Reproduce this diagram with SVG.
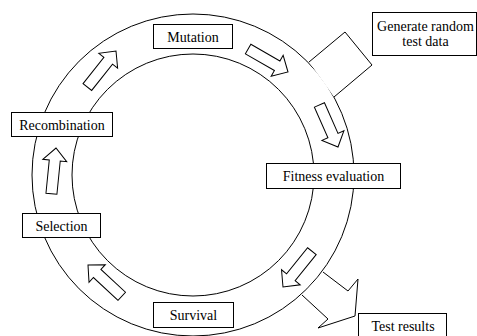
<svg xmlns="http://www.w3.org/2000/svg" width="477" height="336" viewBox="0 0 477 336">
<style>
.ln{fill:none;stroke:#000;stroke-width:1}
.sh{fill:#fff;stroke:#000;stroke-width:1;stroke-linejoin:miter}
.bx{fill:#fff;stroke:#000;stroke-width:1}
text{font-family:'Liberation Serif','DejaVu Serif',serif;font-size:14px;fill:#000;text-anchor:middle}
</style>
<defs>
<polygon id="arr" points="-46,-5.5 -12.5,-5.5 -12.5,-12 0,0 -12.5,12 -12.5,5.5 -46,5.5" fill="#fff" stroke="#000" stroke-width="1"/>
</defs>
<rect width="477" height="336" fill="#fff"/>
<g id="ring">
<circle class="ln" cx="193" cy="175" r="161"/>
<circle class="ln" cx="193" cy="175" r="121"/>
</g>
<g id="connectors">
<path class="sh" d="M309,62 L345,32 L372,65 L334,97"/>
<path class="sh" d="M323,272 L348,291 L358,279 L355,316 L318,328 L328,319 L302,295"/>
<use href="#arr" transform="translate(116,51) rotate(-51.5)"/>
<use href="#arr" transform="translate(288,72) rotate(29.9)"/>
<use href="#arr" transform="translate(338,147) rotate(66.2)"/>
<use href="#arr" transform="translate(283,287) rotate(128.9)"/>
<use href="#arr" transform="translate(88,265) rotate(-137.2)"/>
<use href="#arr" transform="translate(56,148) rotate(-84.3)"/>
</g>
<g id="mutation">
<rect class="bx" x="153.5" y="24.5" width="79" height="24"/>
<text x="193" y="41.5" font-family="Liberation Serif, serif">Mutation</text>
</g>
<g id="recombination">
<rect class="bx" x="11.5" y="112.5" width="101" height="24"/>
<text x="62" y="129.5" font-family="Liberation Serif, serif">Recombination</text>
</g>
<g id="selection">
<rect class="bx" x="22.5" y="213.5" width="78" height="24"/>
<text x="61.5" y="230.5" font-family="Liberation Serif, serif">Selection</text>
</g>
<g id="survival">
<rect class="bx" x="153.5" y="302.5" width="80" height="25"/>
<text x="193.5" y="320" font-family="Liberation Serif, serif">Survival</text>
</g>
<g id="fitness">
<rect class="bx" x="266.5" y="163.5" width="134" height="25"/>
<text x="333.5" y="181" font-family="Liberation Serif, serif">Fitness evaluation</text>
</g>
<g id="generate">
<rect class="bx" x="372.5" y="12.5" width="104" height="43"/>
<text x="425.5" y="30.5" font-family="Liberation Serif, serif">Generate random</text>
<text x="425.5" y="45.5" font-family="Liberation Serif, serif">test data</text>
</g>
<g id="testresults">
<rect class="bx" x="358.5" y="313.5" width="88" height="30"/>
<text x="403" y="330.5" font-family="Liberation Serif, serif">Test results</text>
</g>
</svg>
